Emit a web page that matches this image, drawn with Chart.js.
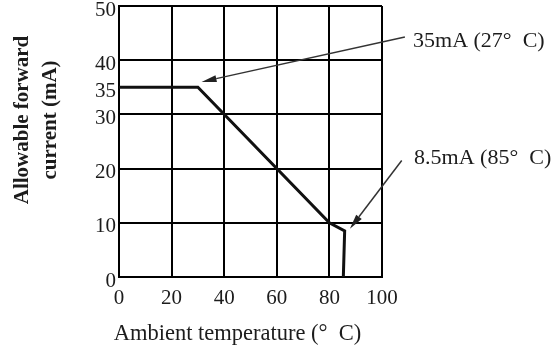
<!DOCTYPE html>
<html><head><meta charset="utf-8">
<script src="https://cdn.jsdelivr.net/npm/chart.js@4.4.1/dist/chart.umd.min.js"></script>
<style>html,body{margin:0;padding:0;background:#fff}#wrap{width:557px;height:356px}</style>
</head><body><div id="wrap"><canvas id="c" width="557" height="356"></canvas></div>
<script>
// ---- data ----
const curveX = [0, 30, 80, 85.8, 85.3];
const curveY = [35, 35, 10, 8.5, 0];
const xTicks = [0, 20, 40, 60, 80, 100];
const yTicks = [0, 10, 20, 30, 35, 40, 50];
const noteTexts = ['35mA (27\u00B0  C)', '8.5mA (85\u00B0  C)'];
const noteTextX = [111.8, 112.2];
const noteTextY = [43.5, 22.0];
const arrowFromX = [108.7, 107.5];
const arrowFromY = [44.3, 21.5];
const arrowToX = [31.4, 87.8];
const arrowToY = [36.0, 8.9];
const xTitle = 'Ambient temperature (\u00B0  C)';
const yTitle = ['Allowable forward', 'current (mA)'];

const SERIF = '"Liberation Serif", "Times New Roman", serif';
const TXT = '#1c1c1c';

const annotate = {
  id: 'annotate',
  afterDraw(chart) {
    const {ctx, chartArea: a, scales: {x, y}} = chart;
    ctx.save();
    // note texts
    ctx.fillStyle = TXT;
    ctx.font = '22px ' + SERIF;
    ctx.textBaseline = 'middle';
    ctx.textAlign = 'left';
    noteTexts.forEach((t, i) => {
      ctx.fillText(t, x.getPixelForValue(noteTextX[i]), y.getPixelForValue(noteTextY[i]));
    });
    // arrows
    ctx.strokeStyle = '#333';
    ctx.fillStyle = '#222';
    ctx.lineWidth = 1.5;
    arrowFromX.forEach((fx, i) => {
      const x0 = x.getPixelForValue(fx), y0 = y.getPixelForValue(arrowFromY[i]);
      const x1 = x.getPixelForValue(arrowToX[i]), y1 = y.getPixelForValue(arrowToY[i]);
      const ang = Math.atan2(y1 - y0, x1 - x0);
      const hl = 15, hw = 3.5;
      const bx = x1 - hl * Math.cos(ang), by = y1 - hl * Math.sin(ang);
      ctx.beginPath(); ctx.moveTo(x0, y0); ctx.lineTo(bx, by); ctx.stroke();
      ctx.beginPath();
      ctx.moveTo(x1, y1);
      ctx.lineTo(bx + hw * Math.sin(ang), by - hw * Math.cos(ang));
      ctx.lineTo(bx - hw * Math.sin(ang), by + hw * Math.cos(ang));
      ctx.closePath(); ctx.fill();
    });
    // x title
    ctx.fillStyle = TXT;
    ctx.font = '22.5px ' + SERIF;
    ctx.textAlign = 'center';
    ctx.fillText(xTitle, (a.left + a.right) / 2 - 13, a.bottom + 57);
    // y title
    ctx.font = 'bold 21px ' + SERIF;
    ctx.translate(0, a.top + 114);
    ctx.rotate(-Math.PI / 2);
    ctx.textAlign = 'center';
    ctx.fillText(yTitle[0], 0, 23);
    ctx.fillText(yTitle[1], 0, 51);
    ctx.restore();
  }
};

new Chart(document.getElementById('c'), {
  type: 'line',
  data: {
    datasets: [{
      data: curveX.map((v, i) => ({x: v, y: curveY[i]})),
      borderColor: '#111',
      borderWidth: 3,
      pointRadius: 0,
      fill: false,
      tension: 0
    }]
  },
  options: {
    responsive: false,
    animation: false,
    devicePixelRatio: 1,
    layout: {padding: {top: 6, right: 175, left: 0, bottom: 0}},
    plugins: {legend: {display: false}, tooltip: {enabled: false}},
    scales: {
      x: {
        type: 'linear', min: 0, max: 100,
        afterBuildTicks: s => { s.ticks = xTicks.map(v => ({value: v})); },
        afterFit: s => { s.height = 79; s.paddingLeft = 0; s.paddingRight = 0; },
        grid: {color: '#000', lineWidth: 2, drawTicks: false},
        border: {display: true, color: '#000', width: 2},
        ticks: {font: {family: SERIF, size: 21}, color: TXT, padding: 9, maxRotation: 0, autoSkip: false}
      },
      y: {
        type: 'linear', min: 0, max: 50,
        afterBuildTicks: s => { s.ticks = yTicks.map(v => ({value: v})); },
        afterFit: s => { s.width = 119; s.paddingTop = 0; s.paddingBottom = 0; },
        grid: {
          color: c => (c.tick && c.tick.value === 35) ? 'rgba(0,0,0,0)' : '#000',
          lineWidth: 2, drawTicks: false
        },
        border: {display: true, color: '#000', width: 2},
        ticks: {font: {family: SERIF, size: 21}, color: TXT, padding: 3, labelOffset: 4, autoSkip: false}
      }
    }
  },
  plugins: [annotate]
});
</script>
</body></html>
